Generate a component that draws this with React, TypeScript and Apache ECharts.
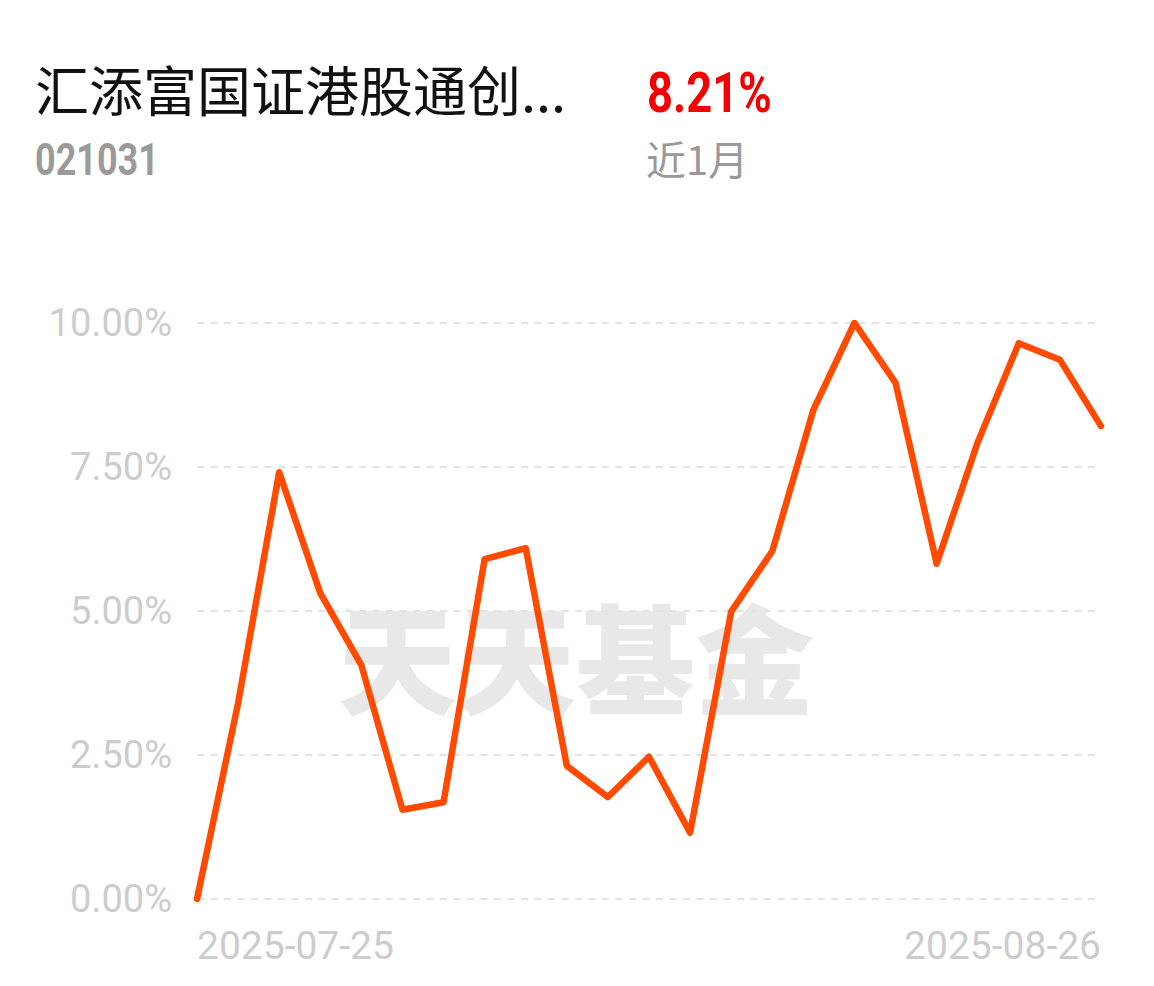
import React, { useEffect, useRef } from "react";
import * as echarts from "echarts";

// Trading days covered by the one-month view
const dates = [
  "2025-07-25", "2025-07-28", "2025-07-29", "2025-07-30", "2025-07-31",
  "2025-08-01", "2025-08-04", "2025-08-05", "2025-08-06", "2025-08-07",
  "2025-08-08", "2025-08-11", "2025-08-12", "2025-08-13", "2025-08-14",
  "2025-08-15", "2025-08-18", "2025-08-19", "2025-08-20", "2025-08-21",
  "2025-08-22", "2025-08-25", "2025-08-26",
];

// Cumulative return (%) since the first day
const returns = [
  0, 3.4, 7.41, 5.31, 4.06, 1.55, 1.68, 5.9, 6.09, 2.31, 1.77, 2.47, 1.15,
  4.99, 6.04, 8.49, 10.0, 8.96, 5.82, 7.93, 9.65, 9.36, 8.21,
];

const yTicks = [0, 2.5, 5, 7.5, 10];

const fundName = "汇添富国证港股通创...";
const fundCode = "021031";
const periodLabel = "近1月";
const periodReturn = "8.21%";

export default function App() {
  const ref = useRef<HTMLDivElement>(null);

  useEffect(() => {
    if (!ref.current) return;
    const chart = echarts.init(ref.current, undefined, { renderer: "svg" });
    const last = dates.length - 1;
    chart.setOption({
      animation: false,
      backgroundColor: "#ffffff",
      grid: { left: 197, right: 53, top: 323, bottom: 87, containLabel: false },
      graphic: [
        {
          type: "text",
          x: 35,
          y: 61,
          style: {
            text: fundName,
            font: "400 54px 'Noto Sans CJK SC', 'Noto Sans', sans-serif",
            fill: "#111111",
          },
        },
        {
          type: "text",
          x: 35,
          y: 137,
          scaleX: 0.8,
          style: {
            text: fundCode,
            font: "bold 45px Roboto, 'Noto Sans', sans-serif",
            fill: "#9a9a9a",
          },
        },
        {
          type: "text",
          x: 647,
          y: 65,
          scaleX: 0.81,
          style: {
            text: periodReturn,
            font: "bold 56px Roboto, 'Noto Sans', sans-serif",
            fill: "#f50000",
          },
        },
        {
          type: "text",
          x: 646,
          y: 138,
          style: {
            text: periodLabel,
            font: "40px 'Noto Sans CJK SC', Roboto, sans-serif",
            fill: "#999999",
          },
        },
        {
          type: "text",
          x: 576,
          y: 654,
          z: -10,
          style: {
            text: "天天基金",
            font: "900 119px 'Noto Sans CJK SC', sans-serif",
            fill: "#e8e8e8",
            align: "center",
            verticalAlign: "middle",
          },
        },
      ],
      xAxis: {
        type: "category",
        data: dates,
        boundaryGap: false,
        axisLine: { show: false },
        axisTick: { show: false },
        splitLine: { show: false },
        axisLabel: {
          interval: (i: number) => i === 0 || i === last,
          alignMinLabel: "left",
          alignMaxLabel: "right",
          color: "#cccccc",
          fontSize: 39,
          fontFamily: "Roboto, sans-serif",
          margin: 27,
        },
      },
      yAxis: {
        type: "value",
        min: yTicks[0],
        max: yTicks[yTicks.length - 1],
        interval: 2.5,
        axisLine: { show: false },
        axisTick: { show: false },
        axisLabel: {
          color: "#cccccc",
          fontSize: 38,
          fontFamily: "Roboto, sans-serif",
          margin: 25,
          formatter: (v: number) => v.toFixed(2) + "%",
        },
        splitLine: {
          show: true,
          lineStyle: { color: "#e3e3e3", width: 2, type: [7, 6.5] },
        },
      },
      series: [
        {
          type: "line",
          data: returns,
          symbol: "none",
          lineStyle: { color: "#ff4a00", width: 6.5, cap: "round", join: "round" },
          z: 5,
        },
      ],
    });
    return () => chart.dispose();
  }, []);

  return (
    <div
      ref={ref}
      style={{ position: "fixed", left: 0, top: 0, width: 1154, height: 986 }}
    />
  );
}
